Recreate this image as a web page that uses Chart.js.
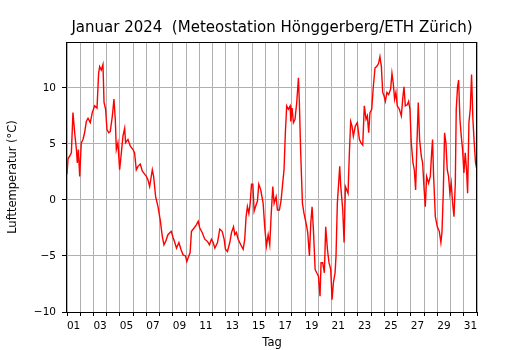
<!DOCTYPE html>
<html>
<head>
<meta charset="utf-8">
<script src="https://cdn.jsdelivr.net/npm/chart.js@4.4.1/dist/chart.umd.min.js"></script>
<style>
  body { margin: 0; background: #fff; }
  canvas { display: block; }
</style>
</head>
<body>
<canvas id="tempChart" width="530" height="350"></canvas>
<script>
// Zeit in Tagen seit 1. Januar 00:00, Temperatur in °C
const zeit = [
  0.00, 0.08, 0.20, 0.33, 0.45, 0.58, 0.71, 0.78, 0.86, 0.96,
  1.08, 1.21, 1.33, 1.46, 1.59, 1.76, 1.91, 2.09, 2.27, 2.39,
  2.47, 2.59, 2.72, 2.80, 2.92, 3.02, 3.15, 3.27, 3.43, 3.55,
  3.65, 3.73, 3.85, 3.98, 4.11, 4.23, 4.36, 4.43, 4.61, 4.79,
  4.99, 5.11, 5.24, 5.37, 5.54, 5.69, 5.87, 6.00, 6.12, 6.25,
  6.45, 6.55, 6.70, 6.88, 7.05, 7.20, 7.33, 7.46, 7.63, 7.88,
  8.03, 8.15, 8.28, 8.46, 8.61, 8.78, 8.96, 9.06, 9.21, 9.31,
  9.41, 9.61, 9.79, 9.92, 10.04, 10.22, 10.42, 10.62, 10.77, 10.92,
  11.05, 11.18, 11.38, 11.55, 11.73, 11.88, 11.98, 12.13, 12.31, 12.44,
  12.59, 12.69, 12.81, 12.94, 13.14, 13.32, 13.44, 13.54, 13.64, 13.75,
  13.85, 13.95, 14.05, 14.15, 14.25, 14.40, 14.50, 14.65, 14.83, 14.95,
  15.08, 15.21, 15.33, 15.43, 15.56, 15.66, 15.81, 15.91, 16.06, 16.19,
  16.31, 16.41, 16.51, 16.61, 16.74, 16.87, 16.92, 17.02, 17.12, 17.24,
  17.37, 17.50, 17.57, 17.67, 17.80, 17.92, 18.08, 18.20, 18.33, 18.43,
  18.53, 18.63, 18.76, 18.88, 19.01, 19.13, 19.21, 19.33, 19.46, 19.56,
  19.69, 19.81, 19.94, 20.04, 20.14, 20.27, 20.34, 20.44, 20.54, 20.62,
  20.70, 20.85, 20.95, 21.05, 21.15, 21.25, 21.35, 21.45, 21.55, 21.65,
  21.80, 21.95, 22.11, 22.23, 22.36, 22.48, 22.61, 22.71, 22.81, 22.91,
  23.04, 23.16, 23.29, 23.41, 23.56, 23.66, 23.77, 23.87, 23.97, 24.07,
  24.19, 24.32, 24.47, 24.57, 24.67, 24.77, 24.87, 24.97, 25.13, 25.28,
  25.38, 25.48, 25.58, 25.73, 25.83, 25.93, 26.03, 26.16, 26.26, 26.36,
  26.46, 26.56, 26.66, 26.79, 26.89, 26.99, 27.09, 27.19, 27.34, 27.47,
  27.57, 27.64, 27.72, 27.85, 28.00, 28.15, 28.27, 28.35, 28.45, 28.55,
  28.65, 28.75, 28.85, 28.95, 29.05, 29.16, 29.26, 29.36, 29.43, 29.53,
  29.61, 29.71, 29.81, 29.91, 30.01, 30.11, 30.21, 30.29, 30.39, 30.49,
  30.59, 30.69, 30.79, 30.89, 30.99
];

const temperatur = [
  2.3, 3.7, 3.9, 4.2, 7.8, 6.0, 4.5, 3.3, 4.5, 2.1,
  5.1, 5.4, 6.0, 7.0, 7.3, 6.9, 7.8, 8.4, 8.2, 11.3,
  11.9, 11.6, 12.1, 8.7, 8.1, 6.3, 6.0, 6.1, 7.5, 9.0,
  7.2, 4.5, 5.1, 2.7, 4.2, 5.7, 6.4, 5.1, 5.4, 4.8,
  4.5, 4.2, 2.7, 3.0, 3.2, 2.6, 2.3, 2.1, 1.8, 1.2,
  2.7, 2.1, 0.3, -0.6, -1.8, -3.2, -4.0, -3.7, -3.1, -2.8,
  -3.4, -3.8, -4.3, -3.8, -4.4, -4.9, -5.0, -5.5, -5.0, -4.7,
  -2.8, -2.5, -2.2, -1.9, -2.5, -2.9, -3.5, -3.7, -4.0, -3.5,
  -3.8, -4.3, -3.8, -2.6, -2.8, -3.5, -4.4, -4.6, -3.8, -2.9,
  -2.4, -3.1, -2.9, -3.5, -4.0, -4.4, -3.5, -1.5, -0.6, -1.2,
  -0.3, 1.4, 1.4, -1.0, -0.6, -0.1, 1.4, 0.9, -0.3, -2.4,
  -4.1, -3.1, -4.0, -1.5, 1.2, -0.3, 0.3, -0.9, -0.9, 0.0,
  1.5, 2.7, 6.0, 8.4, 8.1, 8.4, 7.0, 8.2, 6.9, 7.2,
  8.7, 10.9, 8.7, 4.2, -0.3, -1.2, -2.1, -2.9, -5.0, -2.1,
  -0.6, -2.6, -6.2, -6.5, -6.8, -8.6, -5.6, -5.6, -6.5, -2.4,
  -4.4, -5.6, -6.2, -8.9, -7.4, -6.5, -5.0, -0.3, 1.5, 3.0,
  1.2, -0.9, -3.8, 1.2, 0.9, 0.6, 4.2, 7.0, 6.6, 5.7,
  6.6, 6.9, 5.4, 5.1, 4.9, 8.4, 7.2, 7.5, 6.0, 7.8,
  8.1, 10.1, 11.8, 11.9, 12.2, 12.8, 11.9, 9.6, 9.3, 8.8,
  9.6, 9.4, 9.9, 11.3, 10.4, 9.0, 9.6, 8.4, 8.1, 7.5,
  9.0, 10.1, 8.4, 8.5, 8.8, 8.1, 5.1, 3.3, 2.7, 0.9,
  5.1, 8.7, 5.4, 3.9, 3.3, 1.2, -0.6, 2.1, 1.5, 2.1,
  4.2, 5.4, 2.1, -1.5, -2.4, -2.8, -3.8, -2.9, 0.6, 6.0,
  5.1, 2.7, 2.1, 0.6, 1.5, -0.3, -1.5, 1.5, 8.1, 10.1,
  10.7, 7.2, 5.7, 4.5, 2.4, 4.2, 2.7, 0.6, 6.9, 8.1,
  11.2, 7.2, 5.1, 3.3, 2.7
];

// Beschriftung der ungeraden Tage, jeweils in der Tagesmitte
const tagLabels = ['01', '03', '05', '07', '09', '11', '13', '15',
                   '17', '19', '21', '23', '25', '27', '29', '31'];

const tickFont = { family: 'DejaVu Sans', size: 10.5 };
const labelFont = { family: 'DejaVu Sans', size: 11.5 };

// Ticks: Tagesgrenzen (Gitter) + Tagesmitten (Beschriftung)
const xTicks = [];
for (let d = 0; d <= 31; d++) xTicks.push({ value: d, label: '' });
tagLabels.forEach(l => xTicks.push({ value: parseInt(l, 10) - 0.5, label: l }));
xTicks.sort((a, b) => a.value - b.value);

const boxPlugin = {
  id: 'box',
  beforeDraw(chart) {
    const c = chart.ctx;
    c.save();
    c.fillStyle = '#fff';
    c.fillRect(0, 0, chart.width, chart.height);
    c.restore();
  },
  afterDraw(chart) {
    const { left, top, right, bottom } = chart.chartArea;
    const c = chart.ctx;
    c.save();
    c.strokeStyle = '#000';
    c.lineWidth = 1;
    c.strokeRect(left - 0.5, top + 0.5, right - left, bottom - top);
    c.restore();
  }
};

const data = zeit.map((t, i) => ({ x: t, y: temperatur[i] }));

new Chart(document.getElementById('tempChart').getContext('2d'), {
  type: 'line',
  data: {
    datasets: [{
      data: data,
      borderColor: '#ff0000',
      borderWidth: 1.4,
      pointRadius: 0,
      tension: 0,
      fill: false
    }]
  },
  options: {
    responsive: false,
    animation: false,
    layout: { padding: { left: 0, right: 53, top: 0, bottom: 0 } },
    plugins: {
      legend: { display: false },
      tooltip: { enabled: false },
      title: {
        display: true,
        fullSize: false,
        text: 'Januar 2024  (Meteostation Hönggerberg/ETH Zürich)',
        color: '#000',
        font: { family: 'DejaVu Sans', size: 15, weight: 'normal' },
        padding: { top: 19, bottom: 5 }
      }
    },
    scales: {
      x: {
        type: 'linear',
        min: 0,
        max: 31,
        afterBuildTicks: s => { s.ticks = xTicks.map(t => ({ value: t.value })); },
        afterFit: s => { s.height = 38; },
        ticks: {
          autoSkip: false,
          maxRotation: 0,
          color: '#000',
          font: tickFont,
          padding: 4,
          callback: (v) => {
            const t = xTicks.find(k => Math.abs(k.value - v) < 1e-6);
            return t ? t.label : '';
          }
        },
        grid: {
          color: ctx => Number.isInteger(ctx.tick.value) ? '#b0b0b0' : 'rgba(0,0,0,0)',
          tickColor: ctx => Number.isInteger(ctx.tick.value) ? '#000' : 'rgba(0,0,0,0)',
          tickLength: 4,
          lineWidth: 1
        },
        border: { display: false },
        title: {
          display: true,
          text: 'Tag',
          color: '#000',
          font: labelFont,
          padding: { top: 0, bottom: 0 }
        }
      },
      y: {
        min: -10,
        max: 14.1,
        afterFit: s => { s.width = 67; },
        ticks: {
          stepSize: 5,
          includeBounds: false,
          color: '#000',
          font: tickFont,
          padding: 6,
          callback: v => String(v).replace('-', '\u2212')
        },
        grid: { color: '#b0b0b0', tickColor: '#000', tickLength: 5, lineWidth: 1 },
        border: { display: false },
        title: {
          display: true,
          text: 'Lufttemperatur (°C)',
          color: '#000',
          font: labelFont,
          padding: { top: 6, bottom: 0 }
        }
      }
    }
  },
  plugins: [boxPlugin]
});
</script>
</body>
</html>
